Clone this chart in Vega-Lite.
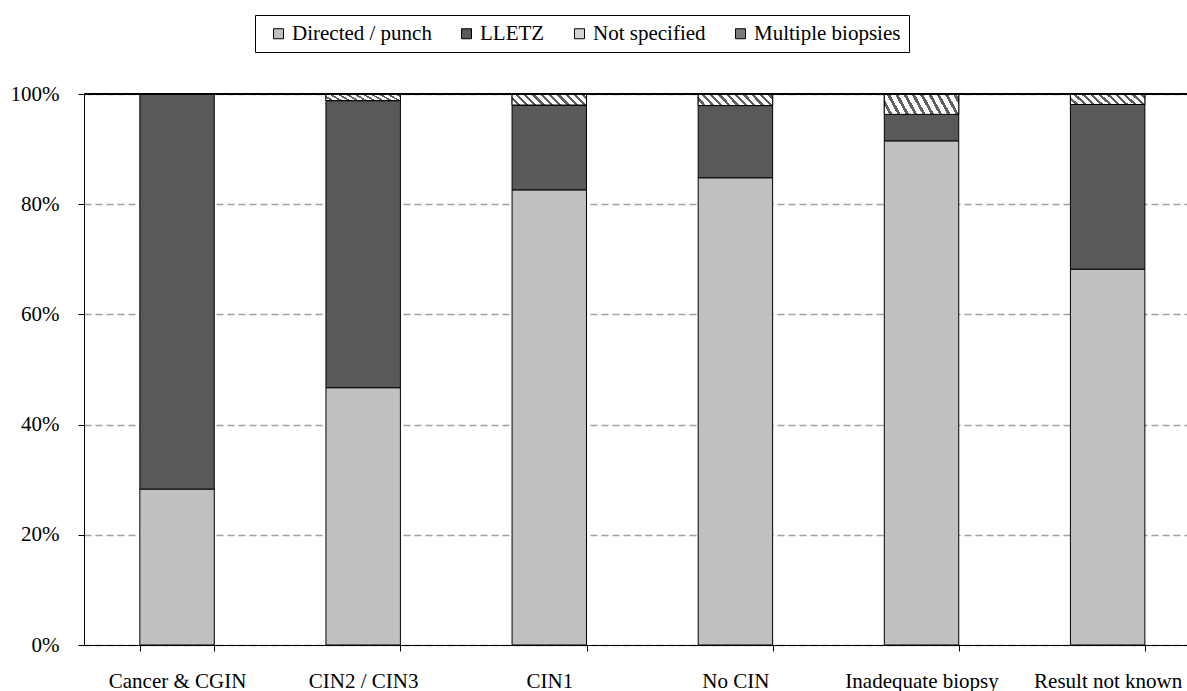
{
  "$schema": "https://vega.github.io/schema/vega-lite/v6.json",
  "width": 1103,
  "height": 551,
  "autosize": {"type": "none"},
  "padding": {"left": 84, "top": 94, "right": 0, "bottom": 46},
  "background": "white",
  "config": {
    "view": {"stroke": null},
    "font": "Liberation Serif",
    "axis": {"labelFont": "Liberation Serif", "labelFontSize": 21, "labelColor": "black", "domainColor": "black", "tickColor": "black", "tickSize": 6, "title": null},
    "legend": {"labelFont": "Liberation Serif", "labelFontSize": 21, "labelColor": "black"}
  },
  "data": {
    "values": [
      {"cat": "Cancer & CGIN", "type": "Directed / punch", "value": 0.283},
      {"cat": "Cancer & CGIN", "type": "LLETZ", "value": 0.717},
      {"cat": "CIN2 / CIN3", "type": "Directed / punch", "value": 0.467},
      {"cat": "CIN2 / CIN3", "type": "LLETZ", "value": 0.521},
      {"cat": "CIN2 / CIN3", "type": "Not specified", "value": 0.012},
      {"cat": "CIN1", "type": "Directed / punch", "value": 0.826},
      {"cat": "CIN1", "type": "LLETZ", "value": 0.154},
      {"cat": "CIN1", "type": "Not specified", "value": 0.020},
      {"cat": "No CIN", "type": "Directed / punch", "value": 0.848},
      {"cat": "No CIN", "type": "LLETZ", "value": 0.131},
      {"cat": "No CIN", "type": "Not specified", "value": 0.021},
      {"cat": "Inadequate biopsy", "type": "Directed / punch", "value": 0.915},
      {"cat": "Inadequate biopsy", "type": "LLETZ", "value": 0.048},
      {"cat": "Inadequate biopsy", "type": "Not specified", "value": 0.037},
      {"cat": "Result not known", "type": "Directed / punch", "value": 0.682},
      {"cat": "Result not known", "type": "LLETZ", "value": 0.299},
      {"cat": "Result not known", "type": "Not specified", "value": 0.019}
    ]
  },
  "transform": [
    {"stack": "value", "groupby": ["cat"], "sort": [{"field": "type", "order": "ascending"}], "as": ["v0", "v1"]}
  ],
  "layer": [
    {
      "mark": {"type": "bar", "stroke": "black", "strokeWidth": 1},
      "encoding": {
        "x": {
          "field": "cat", "type": "nominal",
          "sort": ["Cancer & CGIN", "CIN2 / CIN3", "CIN1", "No CIN", "Inadequate biopsy", "Result not known"],
          "scale": {"range": [0, 1116.7], "paddingInner": 0.6, "paddingOuter": 0.3},
          "axis": {"labelAngle": 0, "tickBand": "extent", "labelPadding": 19, "grid": false, "labelLimit": 300}
        },
        "y": {
          "field": "v0", "type": "quantitative",
          "scale": {"domain": [0, 1], "nice": false},
          "axis": {"format": "%", "values": [0, 0.2, 0.4, 0.6, 0.8, 1], "grid": true, "gridDash": [7, 4], "gridColor": "#a0a0a0", "gridWidth": 1.5, "labelPadding": 19}
        },
        "y2": {"field": "v1"},
        "color": {
          "field": "type", "type": "nominal",
          "scale": {"domain": ["Directed / punch", "LLETZ", "Not specified", "Multiple biopsies"], "range": ["#c0c0c0", "#595959", "#d4d4d4", "#7a7a7a"]},
          "legend": {
            "title": null, "orient": "none", "direction": "horizontal", "legendX": 171, "legendY": -79,
            "symbolType": "square", "symbolSize": 100, "symbolStrokeColor": "black", "symbolStrokeWidth": 1,
            "strokeColor": "black", "padding": 8, "columnPadding": 19, "labelOffset": 3, "symbolOffset": 5
          }
        }
      }
    },
    {
      "transform": [{"filter": "datum.type === 'Not specified'"}],
      "mark": {
        "type": "bar", "stroke": "black", "strokeWidth": 1,
        "fill": {
          "gradient": "linear", "x1": 0, "y1": 1, "x2": 1.2, "y2": 0.82,
          "stops": [
            {"offset": 0, "color": "#ffffff"}, {"offset": 0.055, "color": "#ffffff"}, {"offset": 0.055, "color": "#606060"}, {"offset": 0.0909, "color": "#606060"},
            {"offset": 0.0909, "color": "#ffffff"}, {"offset": 0.1459, "color": "#ffffff"}, {"offset": 0.1459, "color": "#606060"}, {"offset": 0.1818, "color": "#606060"},
            {"offset": 0.1818, "color": "#ffffff"}, {"offset": 0.2368, "color": "#ffffff"}, {"offset": 0.2368, "color": "#606060"}, {"offset": 0.2727, "color": "#606060"},
            {"offset": 0.2727, "color": "#ffffff"}, {"offset": 0.3277, "color": "#ffffff"}, {"offset": 0.3277, "color": "#606060"}, {"offset": 0.3636, "color": "#606060"},
            {"offset": 0.3636, "color": "#ffffff"}, {"offset": 0.4186, "color": "#ffffff"}, {"offset": 0.4186, "color": "#606060"}, {"offset": 0.4545, "color": "#606060"},
            {"offset": 0.4545, "color": "#ffffff"}, {"offset": 0.5095, "color": "#ffffff"}, {"offset": 0.5095, "color": "#606060"}, {"offset": 0.5455, "color": "#606060"},
            {"offset": 0.5455, "color": "#ffffff"}, {"offset": 0.6005, "color": "#ffffff"}, {"offset": 0.6005, "color": "#606060"}, {"offset": 0.6364, "color": "#606060"},
            {"offset": 0.6364, "color": "#ffffff"}, {"offset": 0.6914, "color": "#ffffff"}, {"offset": 0.6914, "color": "#606060"}, {"offset": 0.7273, "color": "#606060"},
            {"offset": 0.7273, "color": "#ffffff"}, {"offset": 0.7823, "color": "#ffffff"}, {"offset": 0.7823, "color": "#606060"}, {"offset": 0.8182, "color": "#606060"},
            {"offset": 0.8182, "color": "#ffffff"}, {"offset": 0.8732, "color": "#ffffff"}, {"offset": 0.8732, "color": "#606060"}, {"offset": 0.9091, "color": "#606060"},
            {"offset": 0.9091, "color": "#ffffff"}, {"offset": 0.9641, "color": "#ffffff"}, {"offset": 0.9641, "color": "#606060"}, {"offset": 1, "color": "#606060"}
          ]
        }
      },
      "encoding": {
        "x": {"field": "cat", "type": "nominal", "sort": ["Cancer & CGIN", "CIN2 / CIN3", "CIN1", "No CIN", "Inadequate biopsy", "Result not known"]},
        "y": {"field": "v0", "type": "quantitative"},
        "y2": {"field": "v1"}
      }
    },
    {
      "mark": {"type": "rule", "color": "black", "strokeWidth": 1},
      "encoding": {"y": {"datum": 1}}
    }
  ]
}
